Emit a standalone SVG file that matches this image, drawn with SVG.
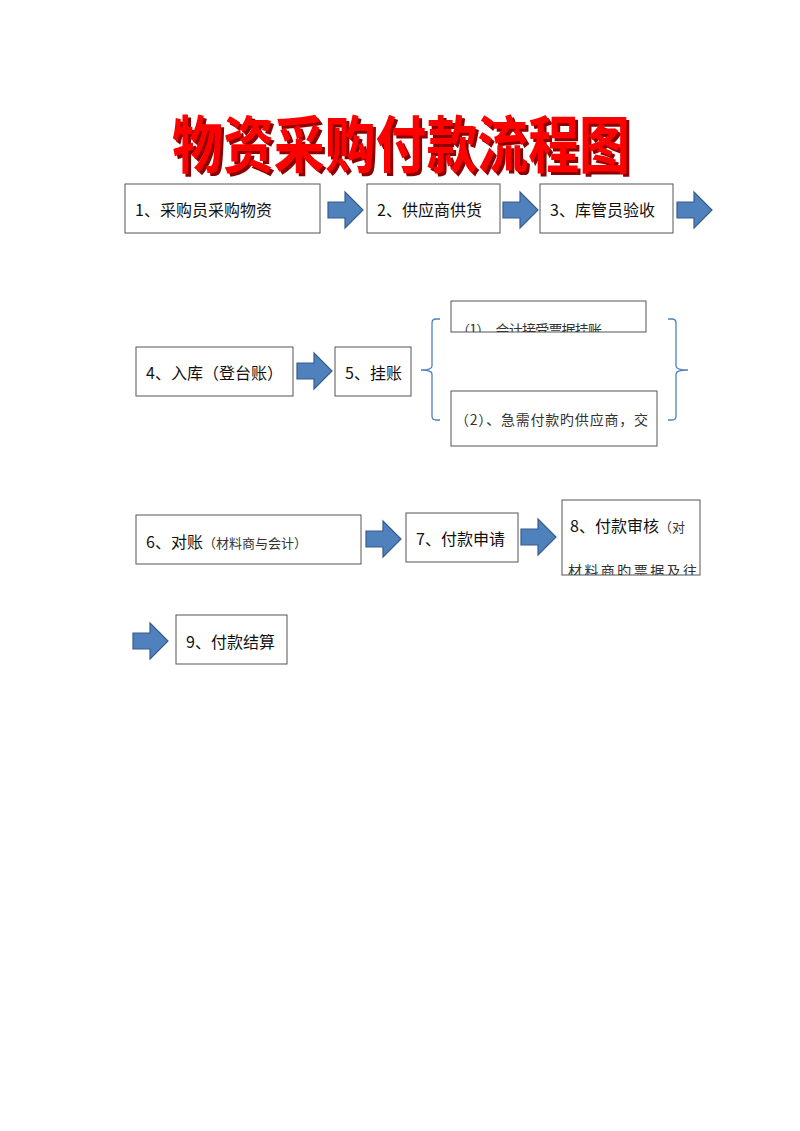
<svg xmlns="http://www.w3.org/2000/svg" width="800" height="1131" viewBox="0 0 800 1131">
<style>
.box{fill:#fff;stroke:#555;stroke-width:1}
.lbl{font-family:"Noto Sans CJK SC","Liberation Sans",sans-serif;font-size:16px;fill:#111}
.sm{font-family:"Noto Sans CJK SC","Liberation Sans",sans-serif;font-size:13px;fill:#333}
.ser{font-family:"Noto Sans CJK SC","Liberation Sans",sans-serif;font-size:14px;fill:#333}
.arr{fill:#4F81BD;stroke:#385D8A;stroke-width:1.2}
.brace{fill:none;stroke:#4F81BD;stroke-width:1.3}
.title{font-family:"Noto Sans CJK SC",sans-serif;font-weight:700;font-size:62px;fill:#FF0000}
</style>
<defs>
<path id="arrow" d="M0,10 H17 V0 L35,18 L17,36 V26 H0 Z"/>
<clipPath id="c1"><rect x="451" y="301" width="195" height="31"/></clipPath>
<clipPath id="c8"><rect x="562" y="500" width="138" height="75"/></clipPath>
<filter id="shadow" x="-5%" y="-20%" width="110%" height="140%">
<feDropShadow dx="3" dy="3" stdDeviation="0.6" flood-color="#8B0000" flood-opacity="1"/>
</filter>
</defs>
<rect width="800" height="1131" fill="#fff"/>
<g id="title">
<text class="title" x="172" y="168" textLength="458" lengthAdjust="spacingAndGlyphs" filter="url(#shadow)">物资采购付款流程图</text>
</g>
<g id="connectors">
<use href="#arrow" class="arr" x="328" y="192"/>
<use href="#arrow" class="arr" x="503" y="192"/>
<use href="#arrow" class="arr" x="677" y="192"/>
<use href="#arrow" class="arr" x="297" y="353"/>
<use href="#arrow" class="arr" x="366" y="521"/>
<use href="#arrow" class="arr" x="521" y="519"/>
<use href="#arrow" class="arr" x="133" y="623"/>
<path class="brace" d="M440,319 H436 Q432,319 432,323 V366 Q432,370 421,370 Q432,370 432,374 V416 Q432,420 436,420 H440"/>
<path class="brace" d="M668,319 H672 Q676,319 676,323 V366 Q676,370 688,370 Q676,370 676,374 V416 Q676,420 672,420 H668"/>
</g>
<g id="n1"><rect class="box" x="125" y="184" width="195" height="49"/><text class="lbl" x="135" y="216">1、采购员采购物资</text></g>
<g id="n2"><rect class="box" x="367" y="184" width="133" height="49"/><text class="lbl" x="377" y="216">2、供应商供货</text></g>
<g id="n3"><rect class="box" x="540" y="184" width="133" height="49"/><text class="lbl" x="550" y="216">3、库管员验收</text></g>
<g id="n4"><rect class="box" x="136" y="347" width="157" height="49"/><text class="lbl" x="146" y="379">4、入库（登台账）</text></g>
<g id="n5"><rect class="box" x="335" y="347" width="76" height="49"/><text class="lbl" x="345" y="379">5、挂账</text></g>
<g id="n5a"><rect class="box" x="451" y="301" width="195" height="31"/><text class="ser" x="456" y="335" textLength="146" clip-path="url(#c1)">（1）、会计接受票据挂账</text></g>
<g id="n5b"><rect class="box" x="451" y="391" width="206" height="55"/><text class="ser" x="455" y="425" textLength="193">（2）、急需付款旳供应商，交</text></g>
<g id="n6"><rect class="box" x="136" y="515" width="225" height="49"/><text class="lbl" x="146" y="548">6、对账<tspan class="sm">（材料商与会计）</tspan></text></g>
<g id="n7"><rect class="box" x="406" y="513" width="112" height="49"/><text class="lbl" x="416" y="545">7、付款申请</text></g>
<g id="n8"><rect class="box" x="562" y="500" width="138" height="75"/><text class="lbl" x="570" y="532">8、付款审核<tspan class="sm">（对</tspan></text><text class="ser" x="568" y="576" textLength="129" clip-path="url(#c8)">材料商旳票据及往</text></g>
<g id="n9"><rect class="box" x="176" y="615" width="111" height="49"/><text class="lbl" x="186" y="648">9、付款结算</text></g>
</svg>
